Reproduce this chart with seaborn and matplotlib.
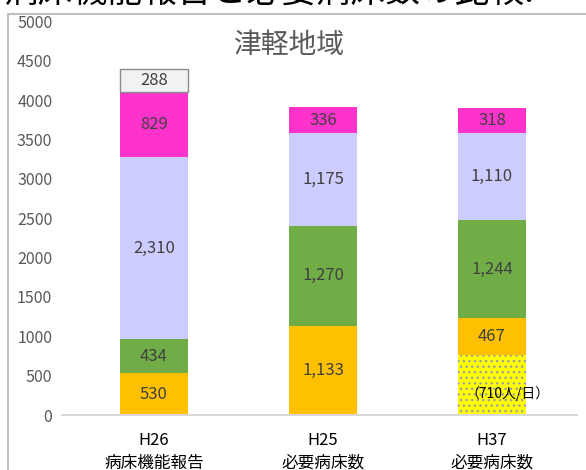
import matplotlib
matplotlib.use("Agg")
import matplotlib.pyplot as plt
import matplotlib.patches as mpatches
import numpy as np
import pandas as pd
import seaborn as sns

# ---------------- data ----------------
categories = ["H26\n病床機能報告", "H25\n必要病床数", "H37\n必要病床数"]
zaitaku = [np.nan, np.nan, 763]        # yellow dotted (710人/日)
seg_orange = [530, 1133, 467]
seg_green = [434, 1270, 1244]
seg_lavender = [2310, 1175, 1110]
seg_magenta = [829, 336, 318]
seg_gray = [288, np.nan, np.nan]
yticks = [0, 500, 1000, 1500, 2000, 2500, 3000, 3500, 4000, 4500, 5000]
title = "津軽地域"
zaitaku_note = "（710人/日）"
page_heading = "病床機能報告と必要病床数の比較."

# ---------------- style ----------------
sns.set_theme(style="white")
plt.rcParams["font.family"] = ["Noto Sans CJK JP", "DejaVu Sans"]
plt.rcParams["hatch.linewidth"] = 1.0

W, H = 586, 470
fig = plt.figure(figsize=(W / 100, H / 100), dpi=100)
ax = fig.add_axes([62 / W, (H - 415) / H, (577 - 62) / W, (415 - 21.5) / H])

layers = [
    ("zaitaku", zaitaku, "#FFFF00"),
    ("orange", seg_orange, "#FFC000"),
    ("green", seg_green, "#70AD47"),
    ("lavender", seg_lavender, "#CCCCFF"),
    ("magenta", seg_magenta, "#FF33CC"),
    ("gray", seg_gray, "#F2F2F2"),
]

bottom = np.zeros(len(categories))
for name, vals, color in layers:
    v = np.array(vals, dtype=float)
    mask = ~np.isnan(v)
    df = pd.DataFrame({"cat": [c for c, m in zip(categories, mask) if m],
                       "val": v[mask]})
    kws = dict(color=color, width=0.40, errorbar=None, order=categories,
               bottom=bottom[mask], ax=ax, saturation=1)
    if name == "zaitaku":
        kws.update(hatch="...", edgecolor="#A0A0A0", linewidth=0)
    elif name == "gray":
        kws.update(edgecolor="#8C8C8C", linewidth=1.0)
    else:
        kws.update(linewidth=0)
    sns.barplot(data=df, x="cat", y="val", **kws)
    cont = ax.containers[-1]
    if name != "zaitaku":
        ax.bar_label(cont, labels=[f"{int(x):,}" for x in v[mask]],
                     label_type="center", color="#404040", fontsize=12)
    else:
        pos = np.arange(len(categories))[mask][0]
        ax.text(pos + 0.09, bottom[mask][0] + v[mask][0] * 0.36, zaitaku_note,
                ha="center", va="center", fontsize=10, color="#000000")
    bottom[mask] += v[mask]

# ---------------- axes ----------------
ax.set_xlim(-0.544, 2.503)
ax.set_ylim(0, 5000)
ax.set_yticks(yticks)
ax.set_yticklabels([str(t) for t in yticks], fontsize=11.5, color="#595959")
ax.set_xlabel("")
ax.set_ylabel("")
ax.tick_params(axis="y", length=0, pad=7)
ax.tick_params(axis="x", length=0, pad=12, labelsize=12, labelcolor="#000000")
for lab in ax.get_xticklabels():
    lab.set_linespacing(1.45)
for s in ["left", "right", "top"]:
    ax.spines[s].set_visible(False)
ax.spines["bottom"].set_color("#D9D9D9")
ax.spines["bottom"].set_linewidth(1.5)
ax.grid(False)

ax.text(0.44, 0.94, title, transform=ax.transAxes, ha="center", va="center",
        fontsize=20, color="#595959")

# chart frame (light gray border)
fig.patches.append(mpatches.Rectangle((8 / W, -0.1), 1.2, (H - 14) / H + 0.1,
                                      transform=fig.transFigure, fill=False,
                                      edgecolor="#BFBFBF", linewidth=1.5))
# partially visible page heading
fig.text(4 / W, (H + 8) / H, page_heading, ha="left", va="center",
         fontsize=25, color="#000000")

fig.savefig("out.png", dpi=100)
